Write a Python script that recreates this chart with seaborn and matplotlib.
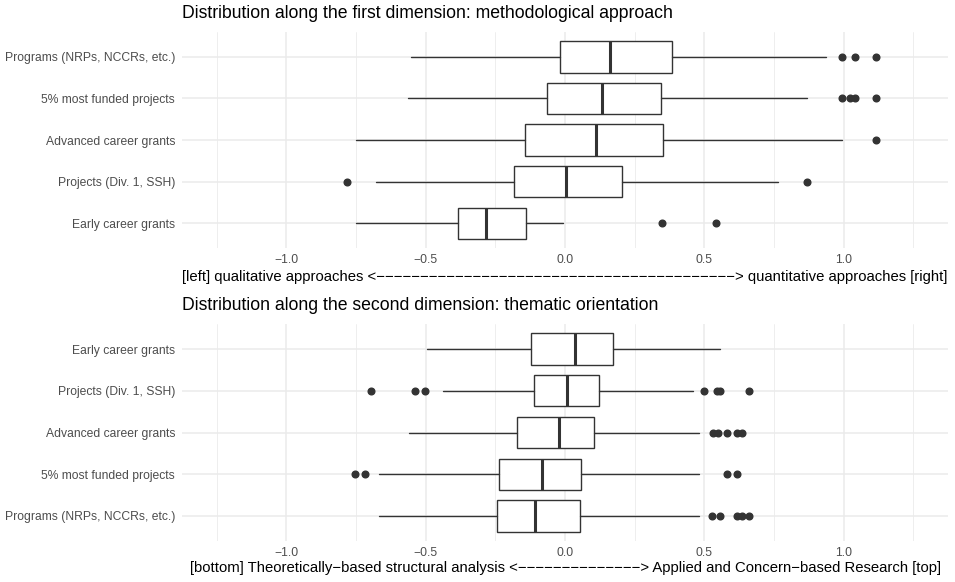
import numpy as np
import seaborn as sns
import matplotlib.pyplot as plt

# Summary statistics (categories listed bottom -> top)
dim1_cats = ["Early career grants", "Projects (Div. 1, SSH)", "Advanced career grants",
             "5% most funded projects", "Programs (NRPs, NCCRs, etc.)"]
dim1_whislo = [-0.749, -0.680, -0.749, -0.563, -0.553]
dim1_q1 = [-0.384, -0.183, -0.142, -0.066, -0.017]
dim1_med = [-0.282, 0.002, 0.112, 0.133, 0.160]
dim1_q3 = [-0.140, 0.204, 0.352, 0.346, 0.385]
dim1_whishi = [-0.006, 0.766, 0.994, 0.870, 0.937]
dim1_out = [[0.348, 0.543], [-0.782, 0.870], [1.117],
            [0.994, 1.024, 1.042, 1.117], [0.994, 1.042, 1.117]]

dim2_cats = ["Programs (NRPs, NCCRs, etc.)", "5% most funded projects", "Advanced career grants",
             "Projects (Div. 1, SSH)", "Early career grants"]
dim2_whislo = [-0.666, -0.666, -0.560, -0.437, -0.495]
dim2_q1 = [-0.245, -0.238, -0.172, -0.113, -0.123]
dim2_med = [-0.107, -0.081, -0.023, 0.008, 0.035]
dim2_q3 = [0.053, 0.059, 0.104, 0.122, 0.172]
dim2_whishi = [0.481, 0.481, 0.481, 0.460, 0.556]
dim2_out = [[0.527, 0.558, 0.616, 0.634, 0.660], [-0.755, -0.717, 0.580, 0.616],
            [0.533, 0.550, 0.580, 0.616, 0.634],
            [-0.697, -0.537, -0.502, 0.499, 0.544, 0.556, 0.660], []]

titles = ["Distribution along the first dimension: methodological approach",
          "Distribution along the second dimension: thematic orientation"]
xlabels = ["[left] qualitative approaches <" + "\u2212" * 41 + "> quantitative approaches [right]",
           "[bottom] Theoretically\u2212based structural analysis <" + "\u2212" * 14
           + "> Applied and Concern\u2212based Research [top]"]
xticks = [-1.0, -0.5, 0.0, 0.5, 1.0]
xtick_labels = ["\u22121.0", "\u22120.5", "0.0", "0.5", "1.0"]

sns.set_theme(style="whitegrid")
plt.rcParams['font.family'] = ['Liberation Sans', 'DejaVu Sans']

fig = plt.figure(figsize=(9.55, 5.82), dpi=100)
W, H = 955, 582
dark = "#333333"


def draw_panel(rect, cats, lo, q1, med, q3, hi, out, title, xlabel, title_y, xlabel_y):
    ax = fig.add_axes(rect)
    stats = []
    for i in range(len(cats)):
        stats.append(dict(whislo=lo[i], q1=q1[i], med=med[i], q3=q3[i],
                          whishi=hi[i], fliers=out[i], label=cats[i]))
    ax.bxp(stats, positions=np.arange(len(cats)), widths=0.75, orientation='horizontal',
           showcaps=False, patch_artist=True,
           boxprops=dict(facecolor="white", edgecolor=dark, linewidth=1.0),
           whiskerprops=dict(color=dark, linewidth=1.0),
           medianprops=dict(color=dark, linewidth=2.2),
           flierprops=dict(marker="o", markerfacecolor=dark, markeredgecolor=dark,
                           markersize=4.8, linestyle="none"))
    ax.set_xlim(-1.375, 1.375)
    ax.set_ylim(-0.6, len(cats) - 0.4)
    ax.set_xticks(xticks)
    ax.set_xticklabels(xtick_labels)
    ax.set_xticks([-1.25, -0.75, -0.25, 0.25, 0.75, 1.25], minor=True)
    ax.set_yticks(np.arange(len(cats)))
    ax.set_yticklabels(cats)
    ax.grid(True, which="major", color="#EBEBEB", linewidth=1.1)
    ax.grid(True, which="minor", axis="x", color="#EBEBEB", linewidth=0.6)
    ax.set_axisbelow(True)
    ax.tick_params(axis="both", which="both", length=0, labelsize=8.7, labelcolor="#4D4D4D")
    ax.tick_params(axis="y", pad=5)
    ax.tick_params(axis="x", pad=4)
    ax.set_facecolor("white")
    sns.despine(ax=ax, left=True, bottom=True)
    fig.text(182 / W, 1 - title_y / H, title, ha="left", va="center", fontsize=12.7, color="black")
    fig.text((182 + 948) / 2 / W, 1 - xlabel_y / H, xlabel, ha="center", va="center",
             fontsize=10.7, color="black")
    return ax


draw_panel([182 / W, 1 - 248 / H, 766 / W, 216 / H], dim1_cats, dim1_whislo, dim1_q1, dim1_med,
           dim1_q3, dim1_whishi, dim1_out, titles[0], xlabels[0], 14, 277)
draw_panel([182 / W, 1 - 541 / H, 766 / W, 217 / H], dim2_cats, dim2_whislo, dim2_q1, dim2_med,
           dim2_q3, dim2_whishi, dim2_out, titles[1], xlabels[1], 306, 568)

fig.savefig("out.png", dpi=100, facecolor="white")
